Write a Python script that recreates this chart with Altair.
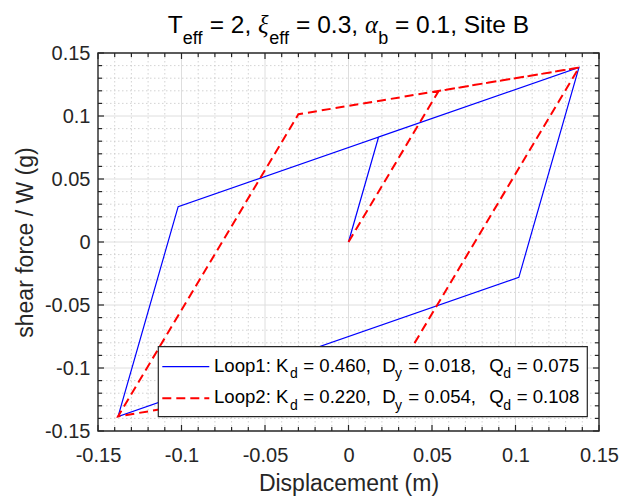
import altair as alt
import pandas as pd

# ---------------- data ----------------
loop1_disp = [0.0, 0.018, 0.138, 0.102, -0.138, -0.102, 0.138]
loop1_force = [0.0, 0.0833, 0.1385, -0.0281, -0.1385, 0.0281, 0.1385]
loop2_disp = [0.0, 0.054, 0.138, 0.030, -0.138, -0.030, 0.138]
loop2_force = [0.0, 0.1199, 0.1384, -0.1014, -0.1384, 0.1014, 0.1384]

loop_names = ["Loop1", "Loop2"]
kd_values = [0.460, 0.220]
dy_values = [0.018, 0.054]
qd_values = [0.075, 0.108]

major_ticks = [-0.15, -0.1, -0.05, 0.0, 0.05, 0.1, 0.15]
major_grid = [-0.1, -0.05, 0.0, 0.05, 0.1]
minor_ticks = [-0.14, -0.13, -0.12, -0.11, -0.09, -0.08, -0.07, -0.06,
               -0.04, -0.03, -0.02, -0.01, 0.01, 0.02, 0.03, 0.04,
               0.06, 0.07, 0.08, 0.09, 0.11, 0.12, 0.13, 0.14]

# ---------------- layout ----------------
W, H = 501, 378
PAD = {"left": 98, "top": 53, "right": 624 - 98 - W, "bottom": 497 - 53 - H}
FONT = "Liberation Sans"
AX = "#262626"

xs = alt.Scale(domain=[-0.15, 0.15], nice=False, zero=False)
ys = alt.Scale(domain=[-0.15, 0.15], nice=False, zero=False)

label_expr = "replace(replace(format(datum.value, '.2~f'), '\u2212', '-'), '\u2013', '-')"

x_axis = alt.Axis(values=major_ticks, labelExpr=label_expr, title="Displacement (m)",
                  grid=False, ticks=False, tickSize=0, domain=False,
                  labelFont=FONT, labelFontSize=20, labelColor=AX, labelPadding=30.5,
                  labelBaseline="alphabetic", labelFlush=False, labelOverlap=False,
                  titleFont=FONT, titleFontSize=23, titleFontWeight="normal",
                  titleColor=AX, titleX=W / 2, titleY=59, titleBaseline="alphabetic",
                  titleAlign="center")
y_axis = alt.Axis(values=major_ticks, labelExpr=label_expr, title="shear force / W (g)",
                  grid=False, ticks=False, tickSize=0, domain=False,
                  labelFont=FONT, labelFontSize=20, labelColor=AX, labelPadding=8,
                  labelBaseline="middle", labelFlush=False, labelOverlap=False,
                  titleFont=FONT, titleFontSize=23, titleFontWeight="normal",
                  titleColor=AX, titleX=-66, titleY=H / 2, titleAngle=270,
                  titleBaseline="alphabetic", titleAlign="center")


def X(field):
    return alt.X(field, scale=xs, axis=x_axis)


def Y(field):
    return alt.Y(field, scale=ys, axis=y_axis)


one = pd.DataFrame({"a": [0]})
minor_df = pd.DataFrame({"v": minor_ticks})
major_df = pd.DataFrame({"v": major_ticks})
mgrid_df = pd.DataFrame({"v": major_grid})

layers = []

# data lines first (they own the axes)
d1 = pd.DataFrame({"d": loop1_disp, "f": loop1_force, "i": list(range(len(loop1_disp)))})
d2 = pd.DataFrame({"d": loop2_disp, "f": loop2_force, "i": list(range(len(loop2_disp)))})

# minor grid (dotted)
mg = dict(color="#c8c8c8", strokeWidth=0.8, strokeDash=[1.5, 2.5])
layers.append(alt.Chart(minor_df).mark_rule(**mg).encode(
    x=X("v:Q"), y=alt.value(0), y2=alt.value(H)))
layers.append(alt.Chart(minor_df).mark_rule(**mg).encode(
    y=Y("v:Q"), x=alt.value(0), x2=alt.value(W)))
# major grid
Mg = dict(color="#dedede", strokeWidth=1)
layers.append(alt.Chart(mgrid_df).mark_rule(**Mg).encode(
    x=X("v:Q"), y=alt.value(0), y2=alt.value(H)))
layers.append(alt.Chart(mgrid_df).mark_rule(**Mg).encode(
    y=Y("v:Q"), x=alt.value(0), x2=alt.value(W)))

layers.append(alt.Chart(d1).mark_line(color="#0000ff", strokeWidth=1.2).encode(
    x=X("d:Q"), y=Y("f:Q"), order="i:Q"))
layers.append(alt.Chart(d2).mark_line(color="#ff0000", strokeWidth=2, strokeDash=[9, 5]).encode(
    x=X("d:Q"), y=Y("f:Q"), order="i:Q"))

# ticks (inward, all four sides)
tk = dict(color=AX, strokeWidth=1.2)
for df, ln in ((major_df, 6), (minor_df, 4)):
    layers.append(alt.Chart(df).mark_rule(**tk).encode(
        x=X("v:Q"), y=alt.value(H), y2=alt.value(H - ln)))
    layers.append(alt.Chart(df).mark_rule(**tk).encode(
        x=X("v:Q"), y=alt.value(0), y2=alt.value(ln)))
    layers.append(alt.Chart(df).mark_rule(**tk).encode(
        y=Y("v:Q"), x=alt.value(0), x2=alt.value(ln)))
    layers.append(alt.Chart(df).mark_rule(**tk).encode(
        y=Y("v:Q"), x=alt.value(W), x2=alt.value(W - ln)))

# legend box
layers.append(alt.Chart(one).mark_rect(fill="white", stroke=AX, strokeWidth=1.2).encode(
    x=alt.value(60.3), x2=alt.value(489.3), y=alt.value(293.7), y2=alt.value(363.7)))
row_line_y = [313.7, 345.3]
row_base_y = [318.7, 350.3]
line_styles = [dict(color="#0000ff", strokeWidth=1.2),
               dict(color="#ff0000", strokeWidth=2, strokeDash=[9, 5])]
for r in range(2):
    layers.append(alt.Chart(one).mark_rule(**line_styles[r]).encode(
        x=alt.value(64.3), x2=alt.value(111.3), y=alt.value(row_line_y[r])))
    pieces = [
        (f"{loop_names[r]}: K", 116.0, False),
        ("d", 192.0, True),
        (f"= {kd_values[r]:.3f},", 205.3, False),
        ("D", 284.3, False),
        ("y", 297.0, True),
        (f"= {dy_values[r]:.3f},", 310.3, False),
        ("Q", 391.3, False),
        ("d", 405.3, True),
        (f"= {qd_values[r]:.3f}", 418.7, False),
    ]
    for txt, px, sub in pieces:
        layers.append(alt.Chart(one).mark_text(
            text=txt, font=FONT, fontSize=14 if sub else 18.6, color="#000000",
            align="left", baseline="alphabetic").encode(
            x=alt.value(px), y=alt.value(row_base_y[r] + (6.7 if sub else 0))))

# title with subscripts
ARIAL = {" ": 278, "=": 584, ",": 278, ".": 278, "T": 611, "e": 556, "f": 278,
         "S": 667, "i": 222, "t": 278, "B": 667, "b": 556}
for ch in "0123456789":
    ARIAL[ch] = 556
GREEK = {"ξ": 460, "α": 540}
MAIN, SUB = 24.5, 18
title_pieces = [("T", "m"), ("eff", "s"), (" = 2, ", "m"), ("ξ", "g"), ("eff", "s"),
                (" = 0.3, ", "m"), ("α", "g"), ("b", "s"), (" = 0.1, Site B", "m")]


def piece_width(txt, kind):
    if kind == "g":
        return sum(GREEK[c] for c in txt) * MAIN / 1000
    size = SUB if kind == "s" else MAIN
    return sum(ARIAL[c] for c in txt) * size / 1000


total = sum(piece_width(t, k) for t, k in title_pieces)
cx = W / 2 - total / 2
TB = -19.7
for txt, kind in title_pieces:
    wdt = piece_width(txt, kind)
    lead = (len(txt) - len(txt.lstrip(" "))) * ARIAL[" "] * (SUB if kind == "s" else MAIN) / 1000
    props = dict(text=txt.strip(" "), align="left", baseline="alphabetic", color="#000000")
    if kind == "g":
        props.update(font="Liberation Serif", fontStyle="italic", fontSize=MAIN)
    else:
        props.update(font=FONT, fontSize=SUB if kind == "s" else MAIN)
    layers.append(alt.Chart(one).mark_text(**props).encode(
        x=alt.value(cx + lead), y=alt.value(TB + (11 if kind == "s" else 0))))
    cx += wdt

# axes box on top
layers.append(alt.Chart(one).mark_rect(fill="transparent", stroke=AX, strokeWidth=1.4).encode(
    x=alt.value(0), x2=alt.value(W), y=alt.value(0), y2=alt.value(H)))

chart = alt.layer(*layers).properties(
    width=W, height=H, padding=PAD, autosize=alt.AutoSizeParams(type="none"),
    background="white"
).configure_view(stroke=None)

chart.save("out.html", embed_options={"renderer": "svg", "actions": False})
